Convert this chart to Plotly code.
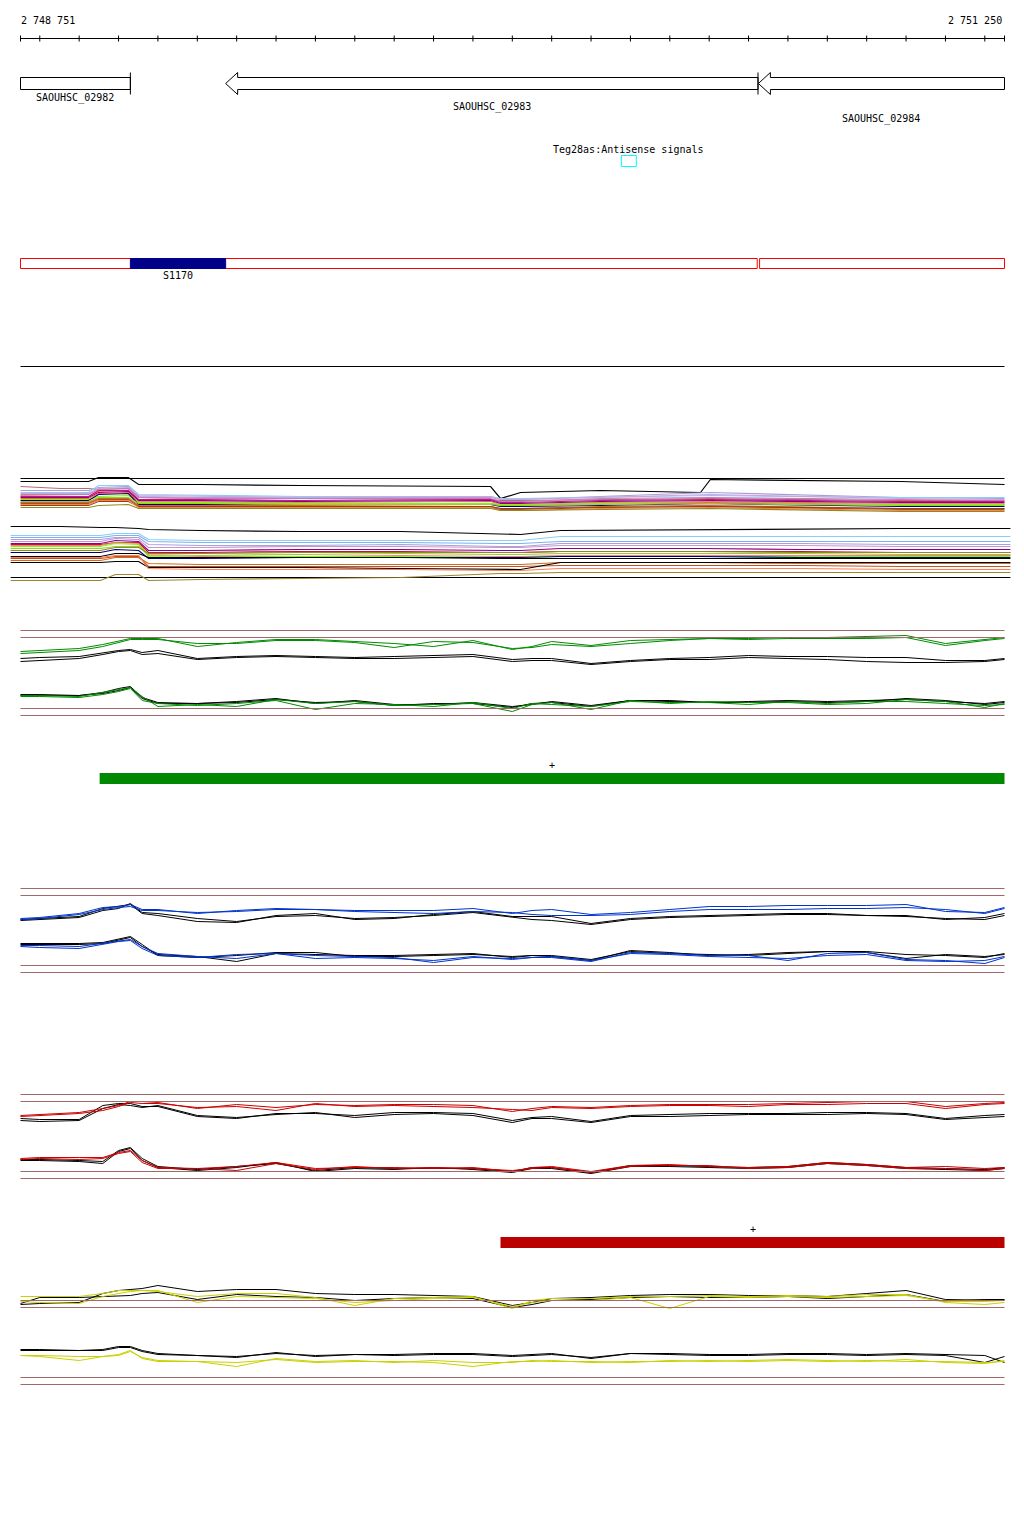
import plotly.graph_objects as go

# -------------------------------------------------
# Region shown
# -------------------------------------------------
VIEW_START = 2748751
VIEW_END = 2751250
RULER_TICKS = list(range(2748800, 2751201, 100))

# -------------------------------------------------
# Annotation tracks
# -------------------------------------------------
GENE_NAMES = ["SAOUHSC_02982", "SAOUHSC_02983", "SAOUHSC_02984"]
GENE_START = [2748751, 2749272, 2750625]
GENE_END = [2749030, 2750624, 2751250]
GENE_STRAND = ["+", "-", "-"]

SRNA_NAME = "Teg28as:Antisense signals"
SRNA_START = 2750277
SRNA_END = 2750315

TU_START = [2748751, 2750628]
TU_END = [2750622, 2751250]
S1170_START = 2749030
S1170_END = 2749272

SEG_GREEN = [2748952, 2751250]
SEG_RED = [2749970, 2751250]

# -------------------------------------------------
# Expression tracks (probe positions, signal rows)
# -------------------------------------------------
POS = [2748751, 2748800, 2748900, 2748960, 2749000, 2749030, 2749060, 2749100,
       2749200, 2749300, 2749400, 2749500, 2749600, 2749700, 2749800, 2749900,
       2750000, 2750050, 2750100, 2750200, 2750300, 2750400, 2750500, 2750600,
       2750700, 2750800, 2750900, 2751000, 2751100, 2751200, 2751250]

GREEN_UP_1 = [651, 650, 648, 644, 641, 638, 638, 638, 646, 642, 639, 639, 641, 643, 646, 640,
              649, 646, 641, 645, 640, 639, 638, 638, 637, 637, 636, 635, 643, 639, 637]
GREEN_UP_2 = [653, 652, 650, 646, 642, 639, 639, 639, 643, 643, 640, 640, 642, 647, 641, 642,
              648, 647, 644, 646, 643, 640, 638, 639, 638, 638, 638, 637, 645, 640, 638]
GREEN_UP_REF_1 = [658, 657, 656, 652, 650, 649, 652, 650, 658, 656, 655, 656, 657, 656, 655, 654,
                  659, 658, 658, 663, 660, 658, 657, 655, 656, 656, 657, 657, 660, 660, 658]
GREEN_UP_REF_2 = [661, 660, 658, 654, 651, 650, 654, 653, 659, 657, 656, 657, 658, 658, 657, 656,
                  661, 660, 660, 664, 661, 659, 659, 657, 658, 659, 661, 662, 662, 661, 659]
GREEN_LOW_1 = [695, 695, 696, 692, 689, 687, 696, 706, 704, 706, 699, 703, 701, 705, 704, 703,
               711, 704, 702, 709, 700, 703, 701, 702, 702, 704, 703, 699, 701, 707, 703]
GREEN_LOW_2 = [696, 696, 697, 694, 691, 688, 700, 703, 705, 703, 700, 709, 703, 704, 706, 702,
               708, 703, 704, 706, 701, 702, 702, 704, 701, 703, 701, 701, 703, 705, 704]
GREEN_LOW_REF_1 = [694, 694, 695, 693, 690, 687, 698, 703, 703, 702, 699, 702, 701, 705, 703, 703,
                   707, 703, 702, 706, 700, 701, 702, 702, 701, 702, 701, 698, 700, 704, 702]
GREEN_LOW_REF_2 = [695, 695, 695, 692, 688, 686, 697, 702, 703, 701, 698, 703, 700, 704, 704, 702,
                   706, 704, 701, 705, 700, 700, 702, 701, 700, 701, 700, 699, 701, 703, 701]

BLUE_UP_1 = [918, 917, 913, 907, 906, 904, 909, 909, 913, 910, 908, 909, 910, 910, 910, 908,
             913, 910, 909, 914, 912, 909, 906, 906, 905, 905, 905, 904, 911, 912, 907]
BLUE_UP_2 = [919, 918, 914, 909, 907, 906, 910, 910, 912, 911, 909, 909, 911, 912, 913, 911,
             912, 914, 915, 915, 914, 911, 909, 909, 909, 908, 908, 907, 909, 913, 908]
BLUE_UP_REF_1 = [919, 918, 916, 908, 906, 904, 913, 915, 921, 922, 915, 913, 919, 918, 914, 911,
                 916, 916, 916, 923, 918, 916, 915, 914, 913, 913, 915, 915, 919, 917, 913]
BLUE_UP_REF_2 = [920, 919, 917, 910, 908, 903, 912, 913, 918, 921, 916, 915, 918, 917, 915, 912,
                 917, 919, 920, 924, 919, 917, 916, 915, 914, 914, 915, 916, 918, 919, 915]
BLUE_LOW_1 = [946, 947, 948, 944, 941, 940, 948, 955, 957, 954, 953, 955, 956, 957, 962, 957,
              958, 957, 957, 961, 952, 953, 955, 955, 960, 953, 952, 959, 960, 963, 957]
BLUE_LOW_2 = [945, 945, 946, 943, 941, 939, 946, 953, 956, 958, 953, 958, 957, 958, 960, 956,
              959, 957, 956, 960, 953, 954, 956, 957, 958, 955, 954, 960, 961, 960, 956]
BLUE_LOW_REF_1 = [943, 943, 943, 942, 939, 936, 944, 955, 957, 955, 952, 952, 956, 956, 955, 954,
                  956, 955, 956, 960, 950, 952, 955, 954, 952, 951, 952, 958, 954, 956, 954]
BLUE_LOW_REF_2 = [944, 944, 944, 943, 940, 937, 946, 954, 956, 961, 953, 954, 955, 955, 954, 953,
                  957, 955, 955, 959, 951, 953, 954, 955, 953, 951, 951, 954, 955, 957, 953]

RED_UP_1 = [1115, 1114, 1112, 1108, 1105, 1101, 1101, 1102, 1108, 1104, 1107, 1104, 1105, 1104, 1104, 1105,
            1111, 1108, 1106, 1107, 1105, 1104, 1104, 1104, 1103, 1102, 1101, 1101, 1106, 1103, 1102]
RED_UP_2 = [1116, 1115, 1113, 1110, 1106, 1102, 1103, 1103, 1107, 1106, 1110, 1103, 1106, 1105, 1106, 1107,
            1109, 1110, 1107, 1108, 1106, 1105, 1105, 1106, 1104, 1104, 1103, 1103, 1108, 1104, 1103]
RED_UP_REF_1 = [1118, 1119, 1119, 1105, 1103, 1103, 1106, 1106, 1116, 1118, 1113, 1113, 1115, 1112, 1112, 1113,
                1120, 1117, 1116, 1121, 1115, 1114, 1113, 1113, 1113, 1112, 1112, 1113, 1118, 1115, 1114]
RED_UP_REF_2 = [1120, 1121, 1120, 1108, 1104, 1105, 1107, 1105, 1115, 1117, 1114, 1112, 1117, 1114, 1113, 1115,
                1122, 1118, 1118, 1122, 1116, 1116, 1115, 1114, 1114, 1114, 1113, 1114, 1119, 1117, 1116]
RED_LOW_1 = [1158, 1157, 1157, 1157, 1152, 1150, 1160, 1167, 1168, 1166, 1162, 1168, 1167, 1167, 1168, 1167,
             1171, 1167, 1166, 1171, 1165, 1164, 1166, 1167, 1166, 1162, 1164, 1167, 1166, 1168, 1167]
RED_LOW_2 = [1159, 1158, 1159, 1158, 1153, 1151, 1162, 1168, 1168, 1170, 1163, 1169, 1166, 1168, 1167, 1168,
             1170, 1168, 1167, 1172, 1166, 1165, 1165, 1168, 1167, 1163, 1165, 1168, 1168, 1170, 1168]
RED_LOW_REF_1 = [1159, 1159, 1160, 1161, 1150, 1147, 1158, 1166, 1169, 1166, 1163, 1170, 1167, 1168, 1168, 1168,
                 1171, 1167, 1167, 1172, 1165, 1165, 1166, 1167, 1166, 1162, 1164, 1167, 1168, 1169, 1167]
RED_LOW_REF_2 = [1160, 1160, 1161, 1163, 1151, 1148, 1160, 1167, 1170, 1167, 1162, 1171, 1168, 1169, 1167, 1169,
                 1172, 1168, 1168, 1173, 1166, 1166, 1167, 1168, 1167, 1163, 1165, 1168, 1169, 1170, 1168]

YELLOW_UP_1 = [1296, 1296, 1296, 1293, 1290, 1290, 1290, 1291, 1296, 1293, 1293, 1297, 1305, 1298, 1297, 1296,
               1308, 1300, 1298, 1298, 1296, 1296, 1295, 1296, 1295, 1296, 1294, 1294, 1302, 1304, 1302]
YELLOW_UP_2 = [1301, 1302, 1303, 1296, 1293, 1291, 1290, 1290, 1302, 1296, 1297, 1298, 1302, 1300, 1298, 1297,
               1306, 1302, 1300, 1300, 1297, 1308, 1296, 1297, 1296, 1297, 1296, 1295, 1301, 1301, 1300]
YELLOW_UP_REF_1 = [1304, 1303, 1302, 1293, 1290, 1289, 1288, 1285, 1291, 1289, 1289, 1293, 1294, 1294, 1295, 1296,
                   1305, 1302, 1298, 1297, 1295, 1294, 1294, 1295, 1295, 1296, 1293, 1290, 1299, 1300, 1300]
YELLOW_UP_REF_2 = [1303, 1297, 1297, 1296, 1295, 1295, 1293, 1292, 1299, 1294, 1296, 1297, 1300, 1298, 1297, 1298,
                   1307, 1304, 1300, 1299, 1297, 1296, 1297, 1297, 1296, 1298, 1296, 1294, 1301, 1299, 1299]
YELLOW_LOW_1 = [1355, 1356, 1360, 1356, 1355, 1351, 1357, 1360, 1361, 1362, 1359, 1362, 1361, 1361, 1362, 1366,
                1361, 1361, 1360, 1362, 1361, 1361, 1360, 1361, 1360, 1361, 1360, 1361, 1361, 1362, 1361]
YELLOW_LOW_2 = [1355, 1355, 1356, 1356, 1354, 1350, 1358, 1361, 1361, 1366, 1358, 1361, 1360, 1362, 1360, 1362,
                1362, 1360, 1361, 1361, 1362, 1360, 1361, 1360, 1359, 1360, 1361, 1359, 1362, 1363, 1360]
YELLOW_LOW_REF_1 = [1349, 1349, 1350, 1349, 1346, 1346, 1350, 1353, 1355, 1356, 1353, 1355, 1354, 1354, 1353, 1353,
                    1355, 1354, 1353, 1358, 1353, 1353, 1354, 1354, 1353, 1353, 1354, 1353, 1354, 1355, 1362]
YELLOW_LOW_REF_2 = [1350, 1350, 1350, 1350, 1347, 1347, 1351, 1354, 1355, 1357, 1352, 1356, 1354, 1355, 1354, 1354,
                    1356, 1355, 1354, 1357, 1353, 1354, 1355, 1355, 1354, 1354, 1355, 1354, 1355, 1362, 1356]

# -------------------------------------------------
# Multi-condition stacks
# -------------------------------------------------
STACK_A_POS = [2748751, 2748853, 2748924, 2748949, 2749025, 2749051, 2749208, 2749462,
               2749945, 2749970, 2750021, 2750224, 2750478, 2750503, 2750986, 2751250]
A_BLACK_FLAT = [478, 478, 478, 478, 478, 478, 478, 478, 478, 478, 478, 478, 478, 478, 478, 478]
A_BLACK_DIP = [481, 481, 481, 477, 477, 484, 484, 485, 486, 498, 492, 490, 492, 479, 481, 484]
A_SKYBLUE = [492, 492, 492, 485, 485, 494, 495, 496, 496, 498, 498, 497, 495, 495, 497, 497]
A_LAVENDER = [490, 490, 490, 487, 486, 496, 497, 497, 497, 499, 499, 496, 492, 492, 497, 498]
A_ROSY = [486, 488, 488, 489, 488, 497, 498, 498, 499, 500, 500, 499, 498, 498, 500, 500]
A_ORCHID = [494, 494, 494, 489, 488, 497, 498, 498, 498, 501, 501, 498, 497, 497, 499, 500]
A_VIOLETRED = [496, 496, 496, 490, 490, 499, 499, 500, 499, 502, 502, 500, 499, 499, 501, 501]
A_MAGENTA = [497, 497, 497, 492, 491, 500, 500, 501, 500, 503, 503, 501, 500, 500, 502, 502]
A_SALMON = [495, 496, 496, 491, 490, 501, 501, 502, 501, 504, 504, 502, 501, 501, 503, 503]
A_NAVY = [500, 500, 500, 494, 493, 504, 504, 504, 504, 506, 506, 505, 503, 503, 506, 506]
A_LAWNGREEN = [499, 499, 499, 496, 495, 502, 502, 503, 503, 504, 504, 503, 503, 503, 504, 504]
A_YELLOWGREEN = [501, 501, 501, 497, 497, 503, 503, 504, 504, 505, 505, 504, 503, 503, 505, 505]
A_CHOCOLATE = [502, 502, 502, 498, 498, 505, 505, 505, 506, 508, 508, 506, 505, 505, 508, 508]
A_SIENNA = [503, 503, 503, 499, 499, 506, 506, 506, 507, 509, 509, 507, 506, 506, 509, 509]
A_CORAL = [504, 504, 504, 500, 500, 507, 507, 507, 507, 510, 510, 508, 507, 507, 510, 510]
A_OLIVE = [507, 507, 507, 505, 504, 508, 508, 508, 508, 510, 510, 509, 508, 508, 511, 511]
A_TOMATO = [498, 498, 498, 493, 492, 502, 502, 503, 503, 505, 505, 503, 502, 502, 504, 504]
A_BROWN = [505, 505, 505, 501, 501, 506, 506, 506, 506, 508, 508, 507, 506, 506, 508, 508]
A_PLUM = [493, 493, 493, 488, 487, 495, 496, 497, 496, 499, 499, 497, 494, 494, 498, 499]

STACK_B_POS = [2748726, 2748853, 2748954, 2748992, 2749051, 2749076, 2749208, 2749462,
               2749716, 2749970, 2750021, 2750122, 2750478, 2750732, 2750986, 2751265]
B_BLACK_TOP = [526, 526, 527, 527, 528, 529, 530, 531, 531, 533, 534, 530, 529, 529, 528, 528]
B_SKYBLUE = [535, 535, 535, 533, 533, 539, 540, 540, 540, 540, 540, 536, 536, 536, 536, 536]
B_LIGHTBLUE = [537, 537, 537, 535, 535, 541, 542, 542, 542, 543, 543, 541, 541, 541, 541, 541]
B_LAVENDER = [539, 539, 539, 537, 537, 544, 545, 545, 544, 546, 546, 543, 543, 543, 544, 544]
B_PLUM = [541, 541, 541, 538, 539, 547, 547, 546, 546, 547, 547, 545, 545, 545, 546, 546]
B_MAGENTA = [543, 543, 543, 540, 541, 550, 550, 549, 549, 550, 550, 548, 548, 549, 549, 549]
B_CRIMSON = [544, 544, 544, 542, 542, 552, 552, 551, 551, 552, 552, 551, 551, 551, 552, 552]
B_LAWNGREEN = [546, 546, 546, 543, 544, 556, 557, 556, 556, 557, 557, 556, 556, 556, 556, 556]
B_YELLOWGREEN = [548, 548, 548, 546, 546, 554, 555, 554, 553, 554, 554, 553, 553, 553, 554, 554]
B_SALMON = [545, 545, 545, 542, 543, 555, 556, 556, 555, 556, 556, 555, 555, 555, 555, 555]
B_NAVY = [552, 552, 552, 549, 550, 558, 558, 557, 557, 557, 557, 556, 556, 557, 557, 557]
B_OLIVE = [550, 550, 550, 547, 547, 553, 553, 552, 552, 552, 552, 551, 551, 552, 552, 552]
B_BLACK_MID = [556, 556, 556, 553, 553, 557, 557, 557, 557, 558, 558, 558, 558, 558, 558, 558]
B_CHOCOLATE = [560, 560, 560, 557, 557, 563, 564, 564, 564, 564, 564, 562, 562, 563, 563, 563]
B_ORANGERED = [558, 558, 558, 556, 556, 566, 566, 566, 566, 566, 566, 565, 565, 565, 566, 566]
B_BLACK_LOW = [562, 562, 562, 561, 561, 567, 567, 567, 568, 569, 569, 562, 562, 562, 562, 562]
B_CORAL = [557, 557, 557, 555, 555, 568, 569, 569, 569, 570, 570, 568, 568, 568, 569, 569]
B_BLACK_BOTTOM = [577, 577, 577, 577, 577, 577, 577, 577, 577, 577, 577, 577, 577, 577, 577, 577]
B_GOLD = [580, 580, 580, 574, 574, 580, 579, 578, 577, 573, 573, 572, 572, 572, 572, 572]

# -------------------------------------------------
# Page geometry (px) -> axis ranges
# -------------------------------------------------
PAGE_PAD = 8
FIG_W, FIG_H = 1008, 1521
PX_PER_BP = 984 / (VIEW_END - VIEW_START)
# half-pixel offset keeps 1px lines on a single pixel row/column
X_LEFT = VIEW_START - (20.5 - PAGE_PAD) / PX_PER_BP
X_RIGHT = X_LEFT + FIG_W / PX_PER_BP
Y_TOP = PAGE_PAD - 0.5
Y_BOTTOM = Y_TOP + FIG_H
HEAD_BP = 12 / PX_PER_BP

FONT = dict(family="DejaVu Sans Mono", size=10, color="black")
GUIDE_COLOR = "#a06868"
STACK_WIDTH = 1.2

fig = go.Figure()
shapes = []
notes = []


def add_line(xs, ys, color, width=1):
    fig.add_trace(go.Scatter(x=xs, y=ys, mode="lines", line=dict(color=color, width=width),
                             hoverinfo="skip", showlegend=False))


def hline(x0, x1, y, color, width=1):
    shapes.append(dict(type="line", xref="x", yref="y", x0=x0, x1=x1, y0=y, y1=y,
                       line=dict(color=color, width=width)))


def rect(x0, x1, y0, y1, line_color, fill=None, width=1):
    shapes.append(dict(type="rect", xref="x", yref="y", x0=x0, x1=x1, y0=y0, y1=y1,
                       line=dict(color=line_color, width=width),
                       fillcolor=fill if fill else "rgba(0,0,0,0)"))


def label(x, y, text, anchor="center", xshift=0):
    notes.append(dict(x=x, y=y, xref="x", yref="y", text=text, showarrow=False,
                      xanchor=anchor, yanchor="middle", font=FONT, xshift=xshift))


# ---------- ruler ----------
hline(VIEW_START, VIEW_END, 38, "black")
tx, ty = [], []
for t in [VIEW_START] + RULER_TICKS + [VIEW_END]:
    tx += [t, t, None]
    ty += [35, 41, None]
add_line(tx, ty, "black")
label(VIEW_START, 20, "2 748 751", anchor="left", xshift=-2)
label(VIEW_END, 20, "2 751 250", anchor="right", xshift=-1)

# ---------- genes ----------
SHAFT_TOP, SHAFT_BOT, HEAD_TOP, HEAD_BOT = 77, 89, 72, 94
LABEL_ROWS = [97, 106, 118]
for name, s, e, strand, row in zip(GENE_NAMES, GENE_START, GENE_END, GENE_STRAND, LABEL_ROWS):
    mid = (SHAFT_TOP + SHAFT_BOT) / 2
    if strand == "-":
        xs = [s, s + HEAD_BP, s + HEAD_BP, e, e, s + HEAD_BP, s + HEAD_BP, s]
        ys = [mid, HEAD_TOP, SHAFT_TOP, SHAFT_TOP, SHAFT_BOT, SHAFT_BOT, HEAD_BOT, mid]
    else:
        xs = [s, e, e, s, s]
        ys = [SHAFT_TOP, SHAFT_TOP, SHAFT_BOT, SHAFT_BOT, SHAFT_TOP]
    fig.add_trace(go.Scatter(x=xs, y=ys, mode="lines", fill="toself", fillcolor="white",
                             line=dict(color="black", width=1), hoverinfo="skip", showlegend=False))
    if e < VIEW_END:
        add_line([e, e], [HEAD_TOP, HEAD_BOT], "black")
    label((s + e) / 2, row, name)

# ---------- sRNA ----------
label((SRNA_START + SRNA_END) / 2, 149, SRNA_NAME)
rect(SRNA_START, SRNA_END, 155, 166, "#00ffff")

# ---------- S1170 track ----------
for s, e in zip(TU_START, TU_END):
    rect(s, e, 258, 268, "#ff0000")
rect(S1170_START, S1170_END, 258, 268, "#000088", fill="#000088")
label((S1170_START + S1170_END) / 2, 275, "S1170")

hline(VIEW_START, VIEW_END, 366, "black")

# ---------- stacks ----------
for series, color in [
    (A_BLACK_FLAT, "black"), (A_BLACK_DIP, "black"), (A_ROSY, "#b07070"),
    (A_LAVENDER, "#a0a0e0"), (A_SKYBLUE, "#87cefa"), (A_PLUM, "#d8a0d8"),
    (A_ORCHID, "#c080c0"), (A_SALMON, "#fa8072"), (A_VIOLETRED, "#c71585"),
    (A_MAGENTA, "#8b008b"), (A_TOMATO, "#ff6347"), (A_LAWNGREEN, "#7cfc00"),
    (A_NAVY, "#000080"), (A_YELLOWGREEN, "#9acd32"), (A_CHOCOLATE, "#d2691e"),
    (A_SIENNA, "#a0522d"), (A_BROWN, "#8b4513"), (A_CORAL, "#ff7f50"),
    (A_OLIVE, "#8f8a1e"),
]:
    add_line(STACK_A_POS, series, color, STACK_WIDTH)

for series, color in [
    (B_BLACK_TOP, "black"), (B_SKYBLUE, "#87cefa"), (B_LIGHTBLUE, "#7fb0f0"),
    (B_LAVENDER, "#a8a0e0"), (B_PLUM, "#c896c8"), (B_MAGENTA, "#8b008b"),
    (B_CRIMSON, "#c0143c"), (B_SALMON, "#fa8072"), (B_LAWNGREEN, "#7cfc00"),
    (B_YELLOWGREEN, "#9acd32"), (B_OLIVE, "#8f8a1e"), (B_NAVY, "#000080"),
    (B_BLACK_MID, "black"), (B_CHOCOLATE, "#d2691e"), (B_ORANGERED, "#c8501e"),
    (B_BLACK_LOW, "black"), (B_CORAL, "#ff7f50"), (B_BLACK_BOTTOM, "black"),
    (B_GOLD, "#9b8530"),
]:
    add_line(STACK_B_POS, series, color, STACK_WIDTH)

# ---------- condition tracks ----------
TRACKS = [
    ("#008c00", [630, 637, 708, 715], [GREEN_UP_1, GREEN_UP_2, GREEN_LOW_1, GREEN_LOW_2],
     [GREEN_UP_REF_1, GREEN_UP_REF_2, GREEN_LOW_REF_1, GREEN_LOW_REF_2]),
    ("#0033cc", [888, 895, 965, 972], [BLUE_UP_1, BLUE_UP_2, BLUE_LOW_1, BLUE_LOW_2],
     [BLUE_UP_REF_1, BLUE_UP_REF_2, BLUE_LOW_REF_1, BLUE_LOW_REF_2]),
    ("#cc0000", [1094, 1101, 1171, 1178], [RED_UP_1, RED_UP_2, RED_LOW_1, RED_LOW_2],
     [RED_UP_REF_1, RED_UP_REF_2, RED_LOW_REF_1, RED_LOW_REF_2]),
    ("#c8d200", [1300, 1307, 1377, 1384], [YELLOW_UP_1, YELLOW_UP_2, YELLOW_LOW_1, YELLOW_LOW_2],
     [YELLOW_UP_REF_1, YELLOW_UP_REF_2, YELLOW_LOW_REF_1, YELLOW_LOW_REF_2]),
]
for color, guides, coloured, refs in TRACKS:
    for g in guides:
        hline(VIEW_START, VIEW_END, g, GUIDE_COLOR)
    for series in refs:
        add_line(POS, series, "black")
    for series in coloured:
        add_line(POS, series, color)

# ---------- segment bars ----------
rect(SEG_GREEN[0], SEG_GREEN[1], 772.5, 783.5, "#008800", fill="#008800", width=0)
label(sum(SEG_GREEN) / 2, 765, "+")
rect(SEG_RED[0], SEG_RED[1], 1236.5, 1247.5, "#bb0000", fill="#bb0000", width=0)
label(sum(SEG_RED) / 2, 1229, "+")

fig.update_layout(
    width=FIG_W, height=FIG_H,
    margin=dict(l=0, r=0, t=0, b=0),
    paper_bgcolor="white", plot_bgcolor="white",
    xaxis=dict(range=[X_LEFT, X_RIGHT], visible=False, fixedrange=True),
    yaxis=dict(range=[Y_BOTTOM, Y_TOP], visible=False, fixedrange=True),
    shapes=shapes, annotations=notes,
    showlegend=False,
)

fig.write_html("out.html")
